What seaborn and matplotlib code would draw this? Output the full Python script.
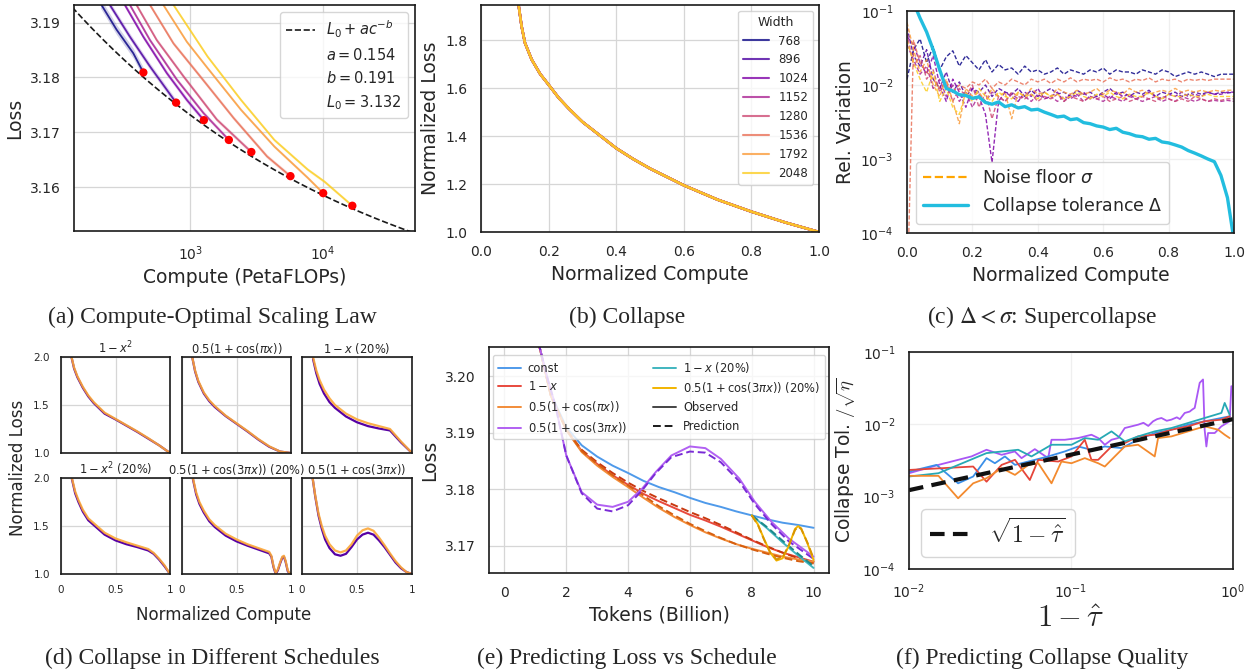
import matplotlib
matplotlib.use("Agg")
import matplotlib.pyplot as plt
import matplotlib.ticker as mticker
from matplotlib.lines import Line2D
import numpy as np
import pandas as pd
import seaborn as sns

# ---------------- data ----------------
widths = [768, 896, 1024, 1152, 1280, 1536, 1792, 2048]

# (a) loss vs compute (PetaFLOPs), one curve per width, ends at the optimum
a_compute = [
    [212, 280, 374, 445],
    [245, 353, 499, 784],
    [318, 445, 667, 944, 1268],
    [347, 499, 794, 1260, 1954],
    [389, 561, 891, 1589, 2884],
    [491, 749, 1189, 2122, 3784, 5675],
    [618, 944, 1352, 2410, 4295, 7655, 10000],
    [736, 1352, 2410, 4295, 7655, 10230, 16560],
]
a_loss = [
    [3.1935, 3.1887, 3.1844, 3.1809],
    [3.1935, 3.1874, 3.1820, 3.1754],
    [3.1935, 3.1874, 3.1808, 3.1759, 3.1722],
    [3.1935, 3.1868, 3.1796, 3.1735, 3.1686],
    [3.1935, 3.1868, 3.1802, 3.1723, 3.1664],
    [3.1935, 3.1862, 3.1802, 3.1726, 3.1656, 3.1620],
    [3.1935, 3.1865, 3.1817, 3.1741, 3.1674, 3.1617, 3.1589],
    [3.1935, 3.1838, 3.1759, 3.1686, 3.1632, 3.1610, 3.1566],
]
a_band = [0.0009, 0.0006, 0.0005, 0.0004, 0.0004, 0.0004, 0.0003, 0.0003]
a_opt_compute = [445, 784, 1268, 1954, 2884, 5675, 10000, 16560]
a_opt_loss = [3.1809, 3.1754, 3.1722, 3.1686, 3.1664, 3.1620, 3.1589, 3.1566]
fit_a, fit_b, fit_L0 = 0.154, 0.191, 3.132

# (b) collapsed curve
b_x = [0.10, 0.11, 0.12, 0.13, 0.15, 0.175, 0.2, 0.23, 0.26, 0.3, 0.35, 0.4,
       0.45, 0.5, 0.6, 0.7, 0.8, 0.9, 1.0]
b_loss = [2.05, 1.96, 1.86, 1.79, 1.72, 1.66, 1.615, 1.56, 1.515, 1.46, 1.405,
          1.35, 1.305, 1.265, 1.195, 1.135, 1.085, 1.04, 1.0]

# (c) noise floor per width and collapse tolerance, in units of 1e-3
c_x = np.linspace(0, 1, 51)
c_noise = {
    768: [12, 30, 42, 20, 33, 16, 24, 29, 18, 25, 20, 16, 22, 15, 19, 16, 17, 14, 18, 15,
          16, 14, 15, 17, 14, 16, 15, 14, 16, 15, 17, 14, 16, 15, 15, 14, 16, 15, 14, 16,
          15, 13, 14, 15, 14, 15, 14, 13, 14, 14, 14],
    896: [60, 25, 18, 30, 12, 9, 15, 8, 11, 7, 9, 8, 10, 7, 9, 8, 7.5, 9, 7, 8.5,
          7, 8, 9, 7.5, 8, 7, 8.5, 7.5, 8, 7, 8, 9, 7.5, 8, 7, 8, 7.5, 8.5, 7, 8,
          7.5, 8, 7, 7.5, 8, 7.5, 8, 7.5, 8, 7.8, 8],
    1024: [45, 35, 20, 14, 25, 10, 6, 12, 8, 5, 9, 7, 4, 0.9, 6, 8, 7, 6, 8, 7,
           9, 6.5, 7, 8, 6, 7.5, 7, 8, 6.5, 7, 7.5, 6.5, 8, 7, 7.5, 6.5, 7, 8, 7, 6.5,
           7.5, 7, 8, 7, 7.5, 7, 8, 7.5, 7.5, 8, 8],
    1152: [35, 22, 14, 18, 9, 12, 7, 10, 6, 8, 5, 7.5, 6, 8, 7, 6, 7.5, 6.5, 7, 6,
           7.5, 6.5, 7, 6, 7, 6.5, 7.5, 6, 7, 6.5, 6, 7, 6.5, 6, 7, 6.5, 6, 6.5, 7, 6,
           6.5, 6, 7, 6.5, 6, 6.5, 6, 6.2, 6, 6.2, 6],
    1280: [50, 18, 25, 12, 16, 8, 11, 6, 9, 7, 10, 5, 8, 3.5, 7, 6, 8, 7, 6.5, 7.5,
           6, 7, 6.5, 7.5, 6, 7, 6.5, 6, 7, 6.5, 7, 6, 6.5, 7, 6, 6.5, 7, 6.5, 6, 7,
           6.5, 6, 6.5, 6, 7, 6.5, 6, 6.5, 6.2, 6.5, 6.5],
    1536: [0.01, 40, 20, 15, 12, 9, 11, 8, 10, 9, 11, 10, 12, 9, 11, 10, 12, 11, 10, 12,
           11, 12, 10.5, 12, 11, 12.5, 11, 12, 11.5, 12, 11, 12.5, 11.5, 12, 11, 12, 11.5,
           12.5, 11, 12, 11.5, 12, 11, 12, 11.5, 12, 11.5, 12, 12, 12, 12],
    1792: [70, 30, 15, 22, 10, 7, 12, 6, 3, 9, 7, 8, 6, 9, 7, 8, 3.5, 8, 7, 9,
           7.5, 8, 7, 9, 8, 7.5, 8.5, 7.5, 8, 9, 7.5, 8.5, 8, 7.5, 9, 8, 8.5, 7.5, 8, 8.5,
           8, 9, 8, 8.5, 8, 8.5, 8, 8.5, 8.2, 8.5, 8.5],
    2048: [40, 20, 12, 8, 15, 6, 9, 5, 4, 8, 6, 9, 7, 6, 8, 7, 6.5, 8, 7, 7.5,
           6.5, 8, 7, 7.5, 6.5, 7, 8, 7, 6.5, 7.5, 7, 8, 7, 6.5, 7.5, 7, 7, 8, 7, 6.5,
           7.5, 7, 7, 7.5, 7, 7, 7.5, 7, 7, 7, 7],
}
c_delta = [300, 130, 80, 52, 30, 16, 9.0, 8.3, 7.4, 7.2, 6.6, 6.9, 5.8, 5.5, 5.9, 5.1,
           5.4, 4.9, 5.1, 4.6, 4.7, 4.3, 4.0, 3.7, 3.8, 3.4, 3.5, 3.1, 3.0, 2.8, 2.7, 2.5,
           2.6, 2.3, 2.2, 2.05, 2.0, 1.85, 1.9, 1.7, 1.65, 1.55, 1.45, 1.3, 1.2, 1.1, 1.0,
           0.92, 0.6, 0.3, 0.08]

# (d) normalized loss under different schedules (low = narrow widths, high = wide)
d_titles = [r"$1-x^2$", r"$0.5(1+\cos(\pi x))$", r"$1-x$ (20%)",
            r"$1-x^2$ (20%)", r"$0.5(1+\cos(3\pi x))$ (20%)", r"$0.5(1+\cos(3\pi x))$"]
d_x = [
    [0.09, 0.12, 0.15, 0.2, 0.25, 0.3, 0.4, 0.5, 0.6, 0.7, 0.8, 0.9, 1.0],
    [0.09, 0.12, 0.15, 0.2, 0.25, 0.3, 0.4, 0.5, 0.6, 0.7, 0.8, 0.9, 1.0],
    [0.1, 0.13, 0.16, 0.2, 0.25, 0.3, 0.4, 0.5, 0.6, 0.7, 0.8, 0.9, 1.0],
    [0.1, 0.13, 0.16, 0.2, 0.25, 0.3, 0.4, 0.5, 0.6, 0.7, 0.8, 0.85, 0.9, 0.95, 1.0],
    [0.1, 0.13, 0.16, 0.2, 0.25, 0.3, 0.4, 0.5, 0.6, 0.7, 0.8, 0.82, 0.84, 0.86, 0.88,
     0.9, 0.92, 0.935, 0.95, 0.97, 0.99, 1.0],
    [0.09, 0.12, 0.15, 0.18, 0.21, 0.25, 0.3, 0.35, 0.4, 0.45, 0.5, 0.55, 0.6, 0.65,
     0.7, 0.75, 0.8, 0.85, 0.9, 0.95, 1.0],
]
d_high = [
    [2.03, 1.89, 1.80, 1.69, 1.60, 1.53, 1.42, 1.355, 1.29, 1.225, 1.155, 1.08, 1.0],
    [2.02, 1.86, 1.75, 1.63, 1.55, 1.49, 1.39, 1.31, 1.23, 1.145, 1.07, 1.015, 1.0],
    [2.0, 1.86, 1.76, 1.66, 1.57, 1.50, 1.41, 1.35, 1.31, 1.28, 1.25, 1.12, 1.0],
    [2.0, 1.86, 1.77, 1.67, 1.58, 1.53, 1.43, 1.37, 1.33, 1.295, 1.26, 1.22, 1.16, 1.09, 1.0],
    [2.0, 1.85, 1.75, 1.66, 1.57, 1.51, 1.42, 1.36, 1.31, 1.27, 1.23, 1.19, 1.08, 1.01,
     1.05, 1.12, 1.18, 1.19, 1.14, 1.04, 1.0, 1.01],
    [2.05, 1.82, 1.63, 1.50, 1.40, 1.31, 1.245, 1.225, 1.245, 1.31, 1.40, 1.455, 1.475,
     1.45, 1.38, 1.30, 1.215, 1.135, 1.07, 1.02, 1.0],
]
d_low = [
    [2.03, 1.88, 1.79, 1.68, 1.59, 1.52, 1.41, 1.35, 1.285, 1.22, 1.15, 1.08, 1.0],
    [2.02, 1.85, 1.74, 1.62, 1.54, 1.48, 1.385, 1.305, 1.225, 1.14, 1.065, 1.015, 1.0],
    [1.98, 1.83, 1.72, 1.62, 1.53, 1.47, 1.38, 1.32, 1.28, 1.255, 1.235, 1.11, 1.0],
    [1.99, 1.84, 1.75, 1.65, 1.56, 1.51, 1.41, 1.35, 1.31, 1.28, 1.245, 1.21, 1.15, 1.08, 1.0],
    [1.99, 1.83, 1.73, 1.64, 1.55, 1.49, 1.40, 1.34, 1.295, 1.255, 1.215, 1.18, 1.07, 1.0,
     1.04, 1.11, 1.17, 1.18, 1.13, 1.03, 1.0, 1.0],
    [2.05, 1.81, 1.61, 1.47, 1.36, 1.27, 1.205, 1.19, 1.21, 1.28, 1.36, 1.41, 1.43,
     1.41, 1.35, 1.28, 1.20, 1.12, 1.06, 1.02, 1.0],
]

# (e) loss vs tokens for several schedules: observed and predicted
e_t = [1.1, 1.5, 2, 2.5, 3, 3.5, 4, 4.5, 5, 5.5, 6, 6.5, 7, 7.5, 8, 8.5, 9, 9.5, 10]
e_const = [3.2060, 3.1969, 3.1910, 3.1878, 3.1858, 3.1842, 3.1829, 3.1815, 3.1804, 3.1795,
           3.1785, 3.1776, 3.1769, 3.1761, 3.1754, 3.1747, 3.1741, 3.1737, 3.1732]
e_lin_obs = [3.2060, 3.1966, 3.1905, 3.1868, 3.1845, 3.1825, 3.1808, 3.1792, 3.1779, 3.1767,
             3.1755, 3.1745, 3.1734, 3.1722, 3.1710, 3.1698, 3.1688, 3.1680, 3.1672]
e_lin_pred = [3.2060, 3.1966, 3.1906, 3.1870, 3.1848, 3.1829, 3.1812, 3.1797, 3.1784, 3.1772,
              3.1760, 3.1749, 3.1737, 3.1724, 3.1711, 3.1699, 3.1688, 3.1678, 3.1669]
e_cos_obs = [3.2060, 3.1966, 3.1905, 3.1866, 3.1842, 3.1822, 3.1804, 3.1785, 3.1767, 3.1751,
             3.1737, 3.1724, 3.1713, 3.1703, 3.1695, 3.1688, 3.1681, 3.1676, 3.1672]
e_cos_pred = [3.2060, 3.1966, 3.1906, 3.1868, 3.1845, 3.1825, 3.1807, 3.1789, 3.1770, 3.1754,
              3.1739, 3.1726, 3.1714, 3.1703, 3.1694, 3.1686, 3.1679, 3.1673, 3.1669]
e_t3 = [1.1, 1.4, 1.65, 2.0, 2.5, 3.0, 3.5, 4.0, 4.45, 4.9, 5.4, 6.0, 6.5, 7.0, 7.6, 8.1,
        8.65, 9.2, 10]
e_cos3_obs = [3.2060, 3.1995, 3.1948, 3.1860, 3.1795, 3.1773, 3.1769, 3.1778, 3.1801, 3.1831,
              3.1860, 3.1876, 3.1873, 3.1854, 3.1819, 3.1778, 3.1742, 3.1713, 3.1681]
e_cos3_pred = [3.2060, 3.1995, 3.1948, 3.1860, 3.1793, 3.1766, 3.1761, 3.1772, 3.1798, 3.1829,
               3.1857, 3.1867, 3.1865, 3.1848, 3.1814, 3.1774, 3.1738, 3.1708, 3.1677]
e_t20 = [8.0, 8.5, 9.0, 9.5, 10]
e_lin20_obs = [3.1754, 3.1731, 3.1706, 3.1683, 3.1661]
e_lin20_pred = [3.1754, 3.1733, 3.1709, 3.1686, 3.1664]
e_t20c = [8.0, 8.2, 8.4, 8.6, 8.8, 9.0, 9.2, 9.4, 9.5, 9.6, 9.8, 10]
e_cos20_obs = [3.1754, 3.1738, 3.1712, 3.1688, 3.1674, 3.1678, 3.1700, 3.1730, 3.1735,
               3.1731, 3.1705, 3.1675]
e_cos20_pred = [3.1754, 3.1737, 3.1711, 3.1688, 3.1676, 3.1680, 3.1701, 3.1728, 3.1734,
                3.1730, 3.1706, 3.1678]

# (f) collapse tolerance / sqrt(eta) vs 1 - tau_hat
f_purple_x = [0.0100, 0.0152, 0.0243, 0.0301, 0.0373, 0.0450, 0.0495, 0.0598, 0.0723, 0.0758,
              0.0916, 0.1107, 0.1337, 0.1472, 0.1618, 0.1778, 0.1954, 0.2148, 0.2596, 0.28,
              0.30, 0.3211, 0.34, 0.3616, 0.39, 0.4165, 0.45, 0.47, 0.5034, 0.54, 0.56,
              0.5802, 0.6230, 0.6531, 0.6683, 0.6850, 0.7015, 0.7711, 0.8476, 0.9530, 0.9770]
f_purple_y = [0.00211, 0.00275, 0.00360, 0.00445, 0.00379, 0.00422, 0.00341, 0.00454, 0.00341,
              0.00612, 0.00612, 0.00646, 0.00718, 0.00646, 0.00522, 0.00612, 0.00646, 0.00889,
              0.00989, 0.0105, 0.0095, 0.01101, 0.0118, 0.01224, 0.0112, 0.01161, 0.0125,
              0.0118, 0.01436, 0.0150, 0.0160, 0.01686, 0.0375, 0.0417, 0.00843, 0.00494,
              0.00758, 0.00758, 0.00938, 0.01101, 0.0337]
f_blue_x = [0.0100, 0.0148, 0.0201, 0.0249, 0.0301, 0.0339, 0.0391, 0.0451, 0.0545, 0.0723,
            0.0916, 0.1107, 0.1337, 0.1617, 0.2049, 0.2596, 0.3286, 0.4170, 0.5280, 0.6685,
            0.8475, 0.9530]
f_blue_y = [0.00222, 0.00275, 0.00153, 0.00190, 0.00341, 0.00290, 0.00360, 0.00275, 0.00306,
            0.00360, 0.00422, 0.00494, 0.00445, 0.00494, 0.00470, 0.00612, 0.00758, 0.00843,
            0.00989, 0.01101, 0.01224, 0.01291]
f_red_x = [0.0100, 0.0249, 0.0301, 0.0373, 0.0451, 0.0557, 0.0628, 0.0834, 0.1007, 0.1217,
           0.1337, 0.1471, 0.1778, 0.2147, 0.2596, 0.3286, 0.4170, 0.5280, 0.6685, 0.8475,
           0.9530]
f_red_y = [0.00234, 0.00261, 0.00161, 0.00275, 0.00323, 0.00170, 0.00323, 0.00306, 0.00360,
           0.00612, 0.00323, 0.00323, 0.00494, 0.00551, 0.00681, 0.00718, 0.00843, 0.00938,
           0.01101, 0.01161, 0.01291]
f_teal_x = [0.0100, 0.0152, 0.0301, 0.0472, 0.0570, 0.0758, 0.1007, 0.1217, 0.1471, 0.1778,
            0.2147, 0.2596, 0.3286, 0.4170, 0.5280, 0.6685, 0.8475, 0.8885, 0.9530]
f_teal_y = [0.00190, 0.00211, 0.00400, 0.00445, 0.00360, 0.00522, 0.00522, 0.00646, 0.00612,
            0.00799, 0.00581, 0.00681, 0.00799, 0.00889, 0.01044, 0.01224, 0.01436, 0.01977,
            0.01361]
f_orange_x = [0.0100, 0.0152, 0.0201, 0.0249, 0.0301, 0.0373, 0.0451, 0.0545, 0.0628, 0.0758,
              0.0873, 0.1007, 0.1217, 0.1471, 0.1617, 0.1864, 0.2147, 0.2596, 0.3286, 0.3448,
              0.4170, 0.5280, 0.6685, 0.8084, 0.8885, 0.9530]
f_orange_y = [0.00194, 0.00194, 0.00095, 0.00153, 0.00180, 0.00248, 0.00200, 0.00275, 0.00290,
              0.00153, 0.00306, 0.00290, 0.00341, 0.00290, 0.00261, 0.00360, 0.00494, 0.00522,
              0.00360, 0.00646, 0.00681, 0.00799, 0.00938, 0.00843, 0.00718, 0.00646]
f_ref_x = [0.01, 1.0]
f_ref_y = [0.00123, 0.0118]

# ---------------- style ----------------
sns.set_theme(style="whitegrid")
plt.rcParams["font.family"] = ["DejaVu Sans"]
plt.rcParams["mathtext.fontset"] = "dejavusans"
plt.rcParams["axes.edgecolor"] = "#1a1a1a"
plt.rcParams["axes.linewidth"] = 1.2
plt.rcParams["grid.color"] = "#d6d6d6"
plt.rcParams["grid.linewidth"] = 0.9

W, H = 1251, 672
fig = plt.figure(figsize=(W / 100, H / 100), dpi=100)

cmap = plt.get_cmap("plasma")
width_colors = {w: cmap(v) for w, v in zip(widths, np.linspace(0, 0.9, len(widths)))}


def add_ax(x0, y0, x1, y1):
    return fig.add_axes([x0 / W, 1 - y1 / H, (x1 - x0) / W, (y1 - y0) / H])


def caption(xc, yc, text):
    fig.text(xc / W, 1 - yc / H, text, ha="center", va="center",
             family="Liberation Serif", size=17, math_fontfamily="stix")


LABEL = 13.5
TICK = 10

# ---------------- (a) ----------------
ax = add_ax(74, 5, 415, 231)
rows = [(w, c, l) for w, cs, ls in zip(widths, a_compute, a_loss) for c, l in zip(cs, ls)]
df_a = pd.DataFrame(rows, columns=["width", "compute", "loss"])
for w, cs, ls, band in zip(widths, a_compute, a_loss, a_band):
    ax.fill_between(cs, np.array(ls) - band, np.array(ls) + band,
                    color=width_colors[w], alpha=0.18, lw=0)
sns.lineplot(data=df_a, x="compute", y="loss", hue="width", hue_order=widths,
             palette=width_colors, sort=False, estimator=None, legend=False,
             lw=1.3, alpha=0.85, ax=ax)
c_fit = np.geomspace(130, 50000, 200)
fit_line, = ax.plot(c_fit, fit_L0 + fit_a * c_fit ** (-fit_b), color="k", ls="--",
                    lw=1.2, zorder=3)
ax.scatter(a_opt_compute, a_opt_loss, color="red", s=36, zorder=4, edgecolor="none")
ax.set_xscale("log")
ax.set_xlim(134, 49000)
ax.set_ylim(3.152, 3.1932)
ax.set_xticks([1e3, 1e4])
ax.xaxis.set_minor_locator(mticker.NullLocator())
ax.set_yticks([3.16, 3.17, 3.18, 3.19])
ax.yaxis.set_major_formatter(mticker.FormatStrFormatter("%.2f"))
ax.set_xlabel("Compute (PetaFLOPs)", fontsize=LABEL)
ax.set_ylabel("Loss", fontsize=LABEL)
ax.tick_params(labelsize=TICK)
blank = Line2D([], [], color="none")
ax.legend([fit_line, blank, blank, blank],
          [r"$L_0 + ac^{-b}$", f"$a = {fit_a}$", f"$b = {fit_b}$", f"$L_0 = {fit_L0}$"],
          loc="upper right", fontsize=10.5, handlelength=2.0, framealpha=0.8)

# ---------------- (b) ----------------
ax = add_ax(481, 5, 819, 232)
df_b = pd.DataFrame([(w, x, y) for w in widths for x, y in zip(b_x, b_loss)],
                    columns=["width", "x", "loss"])
sns.lineplot(data=df_b, x="x", y="loss", hue="width", hue_order=widths,
             palette=width_colors, sort=False, estimator=None, legend=False,
             lw=1.8, alpha=0.8, ax=ax)
ax.set_xlim(0, 1)
ax.set_ylim(1.0, 1.948)
ax.set_xticks(np.arange(0, 1.01, 0.2))
ax.set_yticks([1.0, 1.2, 1.4, 1.6, 1.8])
ax.xaxis.set_major_formatter(mticker.FormatStrFormatter("%.1f"))
ax.yaxis.set_major_formatter(mticker.FormatStrFormatter("%.1f"))
ax.set_xlabel("Normalized Compute", fontsize=LABEL)
ax.set_ylabel("Normalized Loss", fontsize=LABEL)
ax.tick_params(labelsize=TICK)
handles = [Line2D([], [], color=width_colors[w], lw=1.5, alpha=0.8) for w in widths]
ax.legend(handles, [str(w) for w in widths], title="Width", loc="upper right",
          fontsize=8.5, title_fontsize=9, handlelength=2.2, framealpha=0.8)

# ---------------- (c) ----------------
ax = add_ax(907, 11, 1234, 233)
df_c = pd.DataFrame([(w, x, v * 1e-3) for w in widths for x, v in zip(c_x, c_noise[w])],
                    columns=["width", "x", "rel"])
sns.lineplot(data=df_c, x="x", y="rel", hue="width", hue_order=widths,
             palette=width_colors, sort=False, estimator=None, legend=False,
             lw=1.0, alpha=0.85, linestyle=(0, (3, 1.5)), ax=ax)
ax.plot(c_x, np.array(c_delta) * 1e-3, color="#22bddf", lw=2.4)
ax.set_yscale("log")
ax.set_xlim(0, 1)
ax.set_ylim(1e-4, 1e-1)
ax.set_xticks(np.arange(0, 1.01, 0.2))
ax.xaxis.set_major_formatter(mticker.FormatStrFormatter("%.1f"))
ax.yaxis.set_minor_locator(mticker.NullLocator())
ax.grid(color="#efefef")
ax.set_xlabel("Normalized Compute", fontsize=LABEL)
ax.set_ylabel("Rel. Variation", fontsize=LABEL)
ax.tick_params(labelsize=TICK)
ax.legend([Line2D([], [], color="#ffa500", ls="--", lw=1.6),
           Line2D([], [], color="#22bddf", lw=2.4)],
          [r"Noise floor $\sigma$", r"Collapse tolerance $\mathit{\Delta}$"],
          loc="lower left", fontsize=12.5, handlelength=2.6, framealpha=0.8)

# ---------------- (d) ----------------
d_cols = [(61, 170), (182, 291), (302, 412)]
d_rows = [(357, 453), (478, 574)]
low_col, high_col = cmap(0.15), cmap(0.8)
for i in range(6):
    r, c = divmod(i, 3)
    ax = add_ax(d_cols[c][0], d_rows[r][0], d_cols[c][1], d_rows[r][1])
    sns.lineplot(x=d_x[i], y=d_low[i], color=low_col, lw=1.6, sort=False,
                 estimator=None, ax=ax)
    sns.lineplot(x=d_x[i], y=d_high[i], color=high_col, lw=1.6, alpha=0.9, sort=False,
                 estimator=None, ax=ax)
    ax.set_xlim(0, 1)
    ax.set_ylim(1.0, 2.0)
    ax.set_xticks([0, 0.5, 1])
    ax.set_yticks([1.0, 1.5, 2.0])
    ax.xaxis.set_major_formatter(mticker.FuncFormatter(lambda v, p: f"{v:g}"))
    ax.yaxis.set_major_formatter(mticker.FormatStrFormatter("%.1f"))
    ax.tick_params(labelsize=7.5, pad=2)
    if r == 0:
        ax.set_xticklabels([])
    if c > 0:
        ax.set_yticklabels([])
    ax.set_title(d_titles[i], fontsize=8.3, pad=3)
fig.text(18 / W, 1 - 468 / H, "Normalized Loss", rotation=90, ha="center", va="center",
         fontsize=12, color="#262626")
fig.text(224 / W, 1 - 615 / H, "Normalized Compute", ha="center", va="center",
         fontsize=12, color="#262626")

# ---------------- (e) ----------------
ax = add_ax(489, 347, 829, 573)
e_series = [
    ("const", e_t, e_const, None, "#4f9aea", None),
    (r"$1-x$", e_t, e_lin_obs, e_lin_pred, "#e8493d", "#c8380f"),
    (r"$0.5(1+\cos(\pi x))$", e_t, e_cos_obs, e_cos_pred, "#f28c38", "#d65f10"),
    (r"$0.5(1+\cos(3\pi x))$", e_t3, e_cos3_obs, e_cos3_pred, "#b160f2", "#7a2bd6"),
    (r"$1-x$ (20%)", e_t20, e_lin20_obs, e_lin20_pred, "#40b5bf", "#1c8a8c"),
    (r"$0.5(1+\cos(3\pi x))$ (20%)", e_t20c, e_cos20_obs, e_cos20_pred, "#f2b400", "#d89400"),
]
handles, labels = [], []
for name, t, obs, pred, col, pcol in e_series:
    sns.lineplot(x=t, y=obs, color=col, lw=1.4, sort=False, estimator=None, ax=ax)
    if pred is not None:
        ax.plot(t, pred, color=pcol, lw=1.4, ls=(0, (4, 2)))
    handles.append(Line2D([], [], color=col, lw=1.4))
    labels.append(name)
handles += [Line2D([], [], color="#444444", lw=1.4),
            Line2D([], [], color="k", lw=1.4, ls=(0, (4, 2)))]
labels += ["Observed", "Prediction"]
ax.set_xlim(-0.5, 10.5)
ax.set_ylim(3.1652, 3.2052)
ax.set_xticks(range(0, 11, 2))
ax.set_yticks([3.17, 3.18, 3.19, 3.20])
ax.yaxis.set_major_formatter(mticker.FormatStrFormatter("%.2f"))
ax.set_xlabel("Tokens (Billion)", fontsize=LABEL)
ax.set_ylabel("Loss", fontsize=LABEL)
ax.tick_params(labelsize=TICK)
ax.legend(handles, labels, ncol=2, loc="upper left", bbox_to_anchor=(0.005, 0.0, 0.99, 0.975),
          mode="expand", fontsize=8.3, handlelength=2.0, handletextpad=0.6,
          framealpha=0.8, borderaxespad=0.2)

# ---------------- (f) ----------------
ax = add_ax(909, 352, 1233, 569)
f_series = [
    (f_purple_x, f_purple_y, "#a957f5"),
    (f_blue_x, f_blue_y, "#3b8fe8"),
    (f_red_x, f_red_y, "#e5453a"),
    (f_teal_x, f_teal_y, "#27a9b4"),
    (f_orange_x, f_orange_y, "#f38a2e"),
]
for x, y, col in f_series:
    sns.lineplot(x=x, y=y, color=col, lw=1.3, sort=False, estimator=None, ax=ax)
ref_line, = ax.plot(f_ref_x, f_ref_y, color="#111111", lw=3, ls=(0, (3.5, 2)))
ax.set_xscale("log")
ax.set_yscale("log")
ax.set_xlim(1e-2, 1)
ax.set_ylim(1e-4, 1e-1)
ax.xaxis.set_minor_locator(mticker.NullLocator())
ax.yaxis.set_minor_locator(mticker.NullLocator())
ax.grid(color="#efefef")
ax.set_xlabel(r"$1-\hat{\tau}$", fontsize=22, math_fontfamily="cm", labelpad=2)
ax.set_ylabel(r"Collapse Tol. $/\sqrt{\eta}$", fontsize=LABEL, math_fontfamily="cm")
ax.tick_params(labelsize=TICK)
leg = ax.legend([ref_line], [r"$\sqrt{1-\hat{\tau}}$"], loc="lower left", fontsize=17,
                handlelength=1.7, framealpha=0.8)
for txt in leg.get_texts():
    txt.set_math_fontfamily("cm")

# ---------------- captions ----------------
caption(212, 317, "(a) Compute-Optimal Scaling Law")
caption(627, 317, "(b) Collapse")
caption(1042, 317, r"(c) $\Delta < \sigma$: Supercollapse")
caption(212, 658, "(d) Collapse in Different Schedules")
caption(627, 658, "(e) Predicting Loss vs Schedule")
caption(1042, 658, "(f) Predicting Collapse Quality")

fig.savefig("out.png", dpi=100)
